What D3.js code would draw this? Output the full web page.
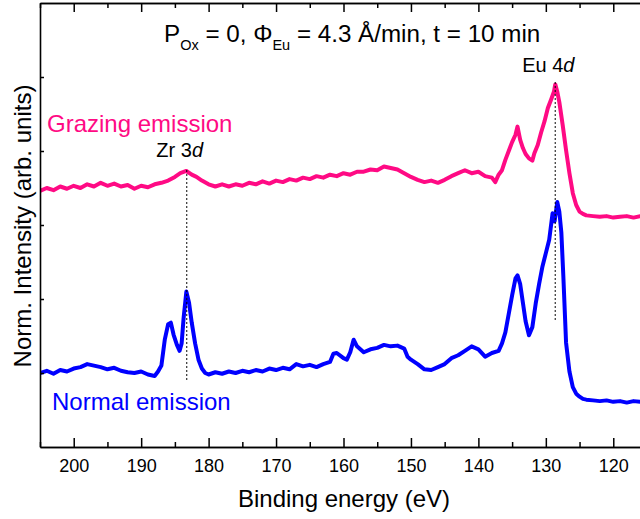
<!DOCTYPE html>
<html>
<head>
<meta charset="utf-8">
<script src="https://cdn.jsdelivr.net/npm/d3@7"></script>
<style>
	body { margin: 0; background: #fff; }
	text { font-family: Arial, "Liberation Sans", sans-serif; }
</style>
</head>
<body>
<div id="chart-area"></div>
<script>
// binding energy (eV) and normalized intensity for the two spectra
const grazingEnergy = [205, 204, 203, 202, 201, 200, 199, 198, 197, 196, 195, 194, 193, 192, 191, 190, 189, 188, 187, 186,
	185, 184.2, 183.3, 182.5, 181.8, 181, 180, 179, 178, 177, 176, 175, 174, 173, 172, 171, 170, 169, 168, 167,
	166, 165, 164, 163, 162, 161, 160, 159, 158, 157, 156, 155, 154, 153, 152, 151, 150, 149, 148, 147,
	146, 145, 144, 143, 142, 141, 140, 139, 138, 137.5, 137, 136.5, 136, 135.5, 135, 134.5, 134.2, 133.8, 133.4, 133,
	132.5, 132, 131.7, 131.2, 130.7, 130.2, 129.7, 129.2, 128.8, 128.6, 128.3, 128, 127.5, 127, 126.5, 126, 125.5, 125, 124.5, 124,
	123, 122, 121, 120, 119, 118, 117, 116, 115];
const grazingIntensity = [3.46, 3.50, 3.47, 3.52, 3.49, 3.53, 3.50, 3.55, 3.52, 3.57, 3.53, 3.56, 3.52, 3.54, 3.49, 3.53, 3.51, 3.55, 3.57, 3.60,
	3.65, 3.70, 3.73, 3.68, 3.65, 3.60, 3.55, 3.52, 3.55, 3.52, 3.55, 3.53, 3.57, 3.55, 3.59, 3.56, 3.60, 3.58, 3.62, 3.60,
	3.64, 3.62, 3.66, 3.64, 3.68, 3.66, 3.70, 3.68, 3.72, 3.72, 3.75, 3.74, 3.79, 3.77, 3.75, 3.70, 3.65, 3.61, 3.58, 3.60,
	3.57, 3.61, 3.66, 3.70, 3.74, 3.70, 3.72, 3.66, 3.64, 3.58, 3.68, 3.74, 3.88, 4.00, 4.12, 4.22, 4.33, 4.15, 4.04, 3.96,
	3.90, 3.87, 3.97, 4.08, 4.25, 4.40, 4.58, 4.70, 4.80, 4.90, 4.80, 4.66, 4.35, 4.01, 3.70, 3.43, 3.27, 3.18, 3.15, 3.13,
	3.12, 3.11, 3.12, 3.10, 3.11, 3.12, 3.10, 3.12, 3.11];

const normalEnergy = [205, 204, 203, 202, 201, 200, 199, 198, 197, 196, 195, 194, 193, 192, 191, 190, 189, 188, 187.5, 187,
	186.5, 186, 185.6, 185.2, 184.7, 184.3, 184, 183.7, 183.3, 182.9, 182.5, 182, 181.5, 181, 180.5, 180, 179, 178, 177, 176,
	175, 174, 173, 172, 171, 170, 169, 168, 167, 166, 165, 164, 163, 162, 161.5, 161, 160, 159.5, 159, 158.5,
	158, 157, 156, 155, 154, 153, 152, 151, 150.5, 150, 149, 148, 147, 146, 145, 144, 143, 142, 141, 140,
	139, 138, 137, 136.5, 136, 135.5, 135, 134.5, 134.2, 133.8, 133.4, 133, 132.5, 132, 131.5, 131, 130.5, 130, 129.5, 129,
	128.7, 128.3, 128, 127.7, 127.4, 127, 126.5, 126, 125.5, 125, 124.5, 124, 123, 122, 121, 120, 119, 118, 117, 116, 115];
const normalIntensity = [1.00, 1.03, 0.99, 1.04, 1.02, 1.06, 1.08, 1.12, 1.10, 1.08, 1.05, 1.07, 1.03, 1.01, 1.00, 1.02, 0.98, 0.96, 1.02, 1.10,
	1.45, 1.66, 1.68, 1.52, 1.38, 1.30, 1.40, 1.75, 2.10, 1.95, 1.68, 1.40, 1.18, 1.06, 1.00, 0.98, 1.01, 0.99, 1.02, 1.00,
	1.03, 1.01, 1.04, 1.02, 1.06, 1.04, 1.07, 1.05, 1.12, 1.09, 1.11, 1.08, 1.12, 1.15, 1.26, 1.27, 1.20, 1.18, 1.28, 1.45,
	1.36, 1.28, 1.32, 1.34, 1.38, 1.36, 1.37, 1.33, 1.22, 1.18, 1.12, 1.05, 1.04, 1.08, 1.12, 1.20, 1.24, 1.30, 1.36, 1.32,
	1.22, 1.27, 1.30, 1.40, 1.55, 1.80, 2.05, 2.28, 2.32, 2.20, 1.95, 1.70, 1.51, 1.62, 1.94, 2.20, 2.44, 2.62, 2.80, 3.16,
	3.05, 3.31, 3.18, 2.90, 2.30, 1.41, 1.02, 0.81, 0.72, 0.68, 0.65, 0.64, 0.63, 0.62, 0.63, 0.61, 0.62, 0.60, 0.62, 0.61, 0.61];

// axis ticks
const xMajorTicks = [200, 190, 180, 170, 160, 150, 140, 130, 120];
const xMinorTicks = [205, 195, 185, 175, 165, 155, 145, 135, 125, 115];
const yTicks = [1, 2, 3, 4, 5];

// peak markers: label, energy, dotted line top / bottom intensity
const peakNames = ["Zr 3", "Eu 4"];
const peakEnergy = [183.25, 128.6];
const peakTop = [3.74, 4.93];
const peakBottom = [0.91, 1.69];

// SVG size
let width = 640, height = 519;
let m_left = 40, m_top = 3, m_bottom = 447, m_right = 647;

let svg = d3.select("#chart-area").append("svg")
	.attr("width", width)
	.attr("height", height);

// X scale (reversed binding energy)
let x = d3.scaleLinear()
	.domain([205, 115])
	.range([m_left, m_right]);

// Y scale
let y = d3.scaleLinear()
	.domain([0, 6])
	.range([m_bottom, m_top]);

svg.append("clipPath").attr("id", "clip")
	.append("rect")
	.attr("x", m_left).attr("y", m_top)
	.attr("width", m_right - m_left).attr("height", m_bottom - m_top);

let line = d3.line()
	.x(d => x(d[0]))
	.y(d => y(d[1]));

let grazing = grazingEnergy.map((e, i) => [e, grazingIntensity[i]]);
let normal = normalEnergy.map((e, i) => [e, normalIntensity[i]]);

let plot = svg.append("g").attr("clip-path", "url(#clip)");

plot.append("path")
	.datum(grazing)
	.attr("fill", "none")
	.attr("stroke", "#FF0A84")
	.attr("stroke-width", 4)
	.attr("stroke-linejoin", "round")
	.attr("d", line);

plot.append("path")
	.datum(normal)
	.attr("fill", "none")
	.attr("stroke", "#0000FF")
	.attr("stroke-width", 4)
	.attr("stroke-linejoin", "round")
	.attr("d", line);

// dotted peak markers
plot.selectAll(".peak-line")
	.data(peakEnergy)
	.enter()
	.append("line")
	.attr("class", "peak-line")
	.attr("x1", d => x(d))
	.attr("x2", d => x(d))
	.attr("y1", (d, i) => y(peakTop[i]))
	.attr("y2", (d, i) => y(peakBottom[i]))
	.attr("stroke", "#000")
	.attr("stroke-width", 1.3)
	.attr("stroke-dasharray", "1.5,2.5");

// axes - ticks pointing inwards
let xAxis = d3.axisBottom(x).tickValues(xMajorTicks).tickSizeInner(-9).tickSizeOuter(0).tickPadding(12);
let xAxisMinor = d3.axisBottom(x).tickValues(xMinorTicks).tickSizeInner(-5).tickSizeOuter(0).tickFormat("");
let xTop = d3.axisTop(x).tickValues(xMajorTicks).tickSizeInner(-9).tickSizeOuter(0).tickFormat("");
let xTopMinor = d3.axisTop(x).tickValues(xMinorTicks).tickSizeInner(-5).tickSizeOuter(0).tickFormat("");
let yAxis = d3.axisLeft(y).tickValues(yTicks).tickSizeInner(-4).tickSizeOuter(0).tickFormat("");

let axes = [
	[xAxis, "translate(0," + m_bottom + ")"],
	[xAxisMinor, "translate(0," + m_bottom + ")"],
	[xTop, "translate(0," + m_top + ")"],
	[xTopMinor, "translate(0," + m_top + ")"],
	[yAxis, "translate(" + m_left + ",0)"]
];
axes.forEach(a => {
	let g = svg.append("g")
		.attr("transform", a[1])
		.call(a[0]);
	g.select(".domain").attr("stroke-width", 1.6);
	g.selectAll(".tick line").attr("stroke-width", 1.5);
	g.selectAll(".tick text")
		.attr("font-size", 18)
		.attr("fill", "#000");
});

// axis titles
svg.append("text")
	.attr("x", 344)
	.attr("y", 507)
	.attr("text-anchor", "middle")
	.attr("font-size", 24)
	.text("Binding energy (eV)");

svg.append("text")
	.attr("transform", "translate(31,226) rotate(-90)")
	.attr("text-anchor", "middle")
	.attr("font-size", 24)
	.text("Norm. Intensity (arb. units)");

// header
let title = svg.append("text")
	.attr("x", 164)
	.attr("y", 42)
	.attr("font-size", 24.2);
title.append("tspan").text("P");
title.append("tspan").attr("font-size", 14.5).attr("dy", 8).text("Ox");
title.append("tspan").attr("dy", -8).text(" = 0, \u03A6");
title.append("tspan").attr("font-size", 14.5).attr("dy", 8).text("Eu");
title.append("tspan").attr("dy", -8).text(" = 4.3 \u00C5/min, t = 10 min");

// series labels
svg.append("text")
	.attr("x", 47).attr("y", 132)
	.attr("font-size", 24)
	.attr("fill", "#FF0A84")
	.text("Grazing emission");

svg.append("text")
	.attr("x", 52).attr("y", 410)
	.attr("font-size", 24)
	.attr("fill", "#0000FF")
	.text("Normal emission");

// peak labels
let peakLabelY = [157, 72];
peakNames.forEach((n, i) => {
	let t = svg.append("text")
		.attr("x", x(peakEnergy[i]) - 7)
		.attr("y", peakLabelY[i])
		.attr("text-anchor", "middle")
		.attr("font-size", 20);
	t.append("tspan").text(n);
	t.append("tspan").attr("font-style", "italic").text("d");
});
</script>
</body>
</html>
